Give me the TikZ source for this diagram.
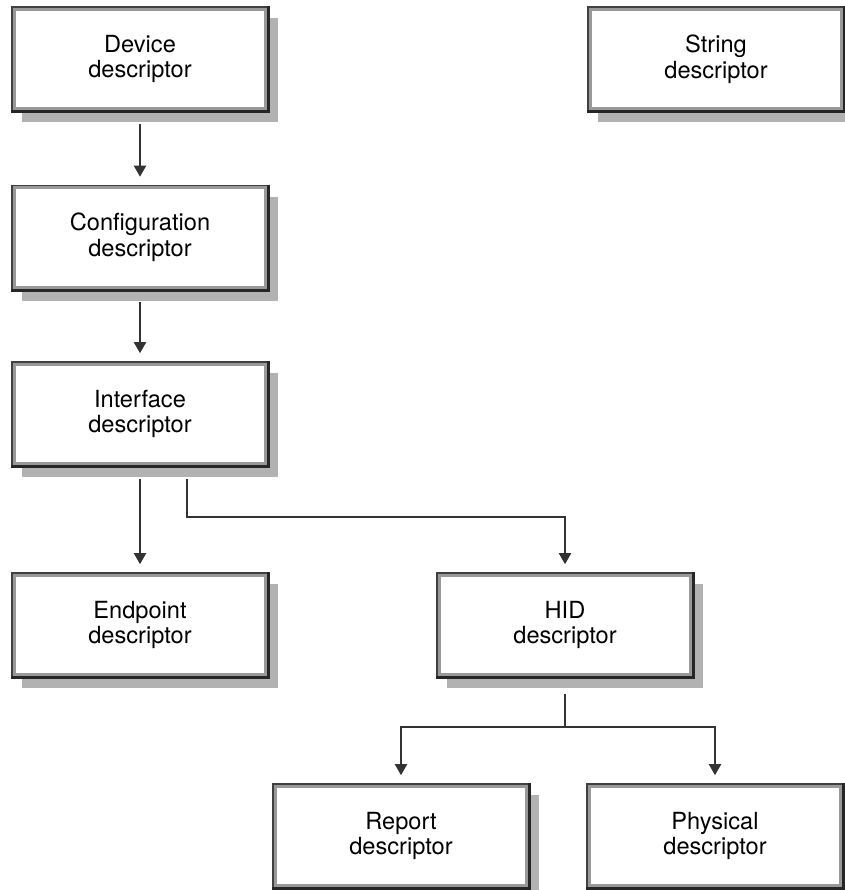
\documentclass[tikz,border=0pt]{standalone}
\usepackage{fontspec}
\setmainfont{TeX Gyre Heros}
\usetikzlibrary{arrows.meta,shadows}
\tikzset{
  desc/.style={rectangle, draw=black!75, line width=0.8pt, fill=white,
    minimum width=128pt, minimum height=52pt, inner sep=0pt, align=center,
    font=\fontsize{11.8}{12.8}\selectfont,
    drop shadow={shadow xshift=5pt, shadow yshift=-5.5pt, opacity=1, fill=black!30}},
  bevel/.style={draw=black!40, line width=1.4pt},
  rim/.style={draw=black!85, line width=1.6pt},
  link/.style={draw=black!80, line width=1pt},
  arr/.style={link, -{Triangle[width=6pt,length=5.5pt]}, shorten >=4pt, shorten <=6pt}
}
\begin{document}
\begin{tikzpicture}[x=0.5pt,y=-0.5pt]
  \useasboundingbox (0,0) rectangle (845,890);
  \node[desc] (dev) at (140,59) {Device\\descriptor};
  \node[desc] (str) at (716,59) {String\\descriptor};
  \node[desc] (cfg) at (140,237.5) {Configuration\\descriptor};
  \node[desc] (ifc) at (140,414) {Interface\\descriptor};
  \node[desc] (ep) at (140,625) {Endpoint\\descriptor};
  \node[desc] (hid) at (565,625) {HID\\descriptor};
  \node[desc] (rep) at (401,836) {Report\\descriptor};
  \node[desc] (phy) at (715,836) {Physical\\descriptor};
  % bevelled frames
  \foreach \n in {dev,str,cfg,ifc,ep,hid,rep,phy}{
    \draw[bevel] ([shift={(1.5pt,1.5pt)}]\n.south west) rectangle ([shift={(-1.5pt,-1.5pt)}]\n.north east);
    \draw[rim] (\n.north east) -- (\n.south east) -- (\n.south west);
  }
  \draw[arr] (dev) -- (cfg);
  \draw[arr] (cfg) -- (ifc);
  \draw[arr] (ifc) -- (ep);
  \draw[arr] ([xshift=23.5pt]ifc.south) -- ++(0,50) -| (hid.north);
  \coordinate (split) at ([yshift=-24.5pt]hid.south);
  \draw[link, shorten <=8pt] (hid.south) -- (split);
  \draw[arr, shorten <=0pt] (split) -| (rep.north);
  \draw[arr, shorten <=0pt] (split) -| (phy.north);
\end{tikzpicture}
\end{document}
